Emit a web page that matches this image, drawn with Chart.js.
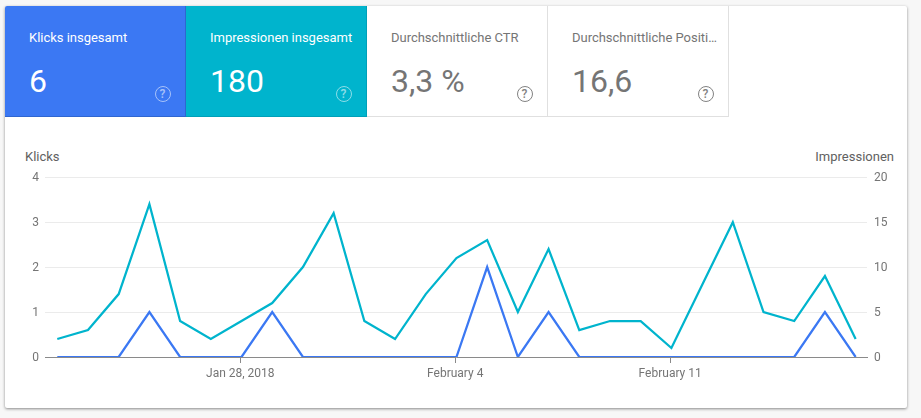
<!DOCTYPE html>
<html>
<head>
<meta charset="utf-8">
<script src="https://cdn.jsdelivr.net/npm/chart.js@4"></script>
<style>
	html, body { margin: 0; padding: 0; width: 921px; height: 418px; overflow: hidden; background: #f7f7f7; font-family: Roboto, sans-serif; }
	#card { position: absolute; left: 5px; top: 6px; width: 902px; height: 402px; background: #fff; border-radius: 2px; box-shadow: 0 1px 3px rgba(0,0,0,0.45); }
	.tile { position: absolute; top: 6px; width: 181px; height: 111px; box-sizing: border-box; color: #757575; border-right: 1px solid #e0e0e0; border-bottom: 1px solid #e0e0e0; }
	.tile.clicks { left: 5px; background: #3b78f3; color: #fff; border-color: #2f66d0; border-top-left-radius: 2px; }
	.tile.impressions { left: 186px; background: #00b4cd; color: #fff; border-color: #00a0b8; }
	.tile.ctr { left: 367px; }
	.tile.position { left: 548px; }
	.tile .name { position: absolute; left: 24px; top: 23.5px; font-size: 13px; line-height: 16px; white-space: nowrap; letter-spacing: -0.02px; }
	.tile .value { position: absolute; left: 24px; top: 56px; font-size: 32px; line-height: 38px; white-space: nowrap; }
	.tile .help { position: absolute; left: 149.5px; top: 79.5px; width: 14px; height: 14px; border: 1.5px solid currentColor; border-radius: 50%; font-size: 12px; line-height: 14px; text-align: center; font-weight: 500; opacity: 0.55; }
	.tile.ctr .help, .tile.position .help { opacity: 0.9; }
	.axis-name { position: absolute; top: 149px; font-size: 13px; line-height: 16px; color: #616161; }
	#chart-box { position: absolute; left: 5px; top: 163px; width: 902px; height: 237px; }
</style>
</head>
<body>
<div id="card"></div>
<div class="tile clicks"><div class="name">Klicks insgesamt</div><div class="value">6</div><div class="help">?</div></div>
<div class="tile impressions"><div class="name">Impressionen insgesamt</div><div class="value">180</div><div class="help">?</div></div>
<div class="tile ctr"><div class="name">Durchschnittliche CTR</div><div class="value">3,3 %</div><div class="help">?</div></div>
<div class="tile position"><div class="name">Durchschnittliche Positi…</div><div class="value">16,6</div><div class="help">?</div></div>
<div class="axis-name" style="left:25px">Klicks</div>
<div class="axis-name" style="right:27px">Impressionen</div>
<div id="chart-box"><canvas id="GscChart"></canvas></div>
<script>
// days counted from Jan 22, 2018
const days = [0,1,2,3,4,5,6,7,8,9,10,11,12,13,14,15,16,17,18,19,20,21,22,23,24,25,26];
const clicks = [0,0,0,1,0,0,0,1,0,0,0,0,0,0,2,0,1,0,0,0,0,0,0,0,0,1,0];
const impressions = [2,3,7,17,4,2,4,6,10,16,4,2,7,11,13,5,12,3,4,4,1,8,15,5,4,9,2];
const tickDays = [6,13,20];
const tickLabels = ['Jan 28, 2018','February 4','February 11'];
const clickTicks = [0,1,2,3,4];
const impressionTicks = [0,5,10,15,20];

const tickFont = {family: 'Roboto', size: 12};

new Chart(document.getElementById('GscChart'), {
	type: 'line',
	data: {
		labels: days,
		datasets: [{
			label: 'Klicks',
			data: days.map((d, i) => ({x: d, y: clicks[i]})),
			yAxisID: 'yClicks',
			borderColor: '#3b78f3',
			borderWidth: 2.25,
			pointRadius: 0
		}, {
			label: 'Impressionen',
			data: days.map((d, i) => ({x: d, y: impressions[i]})),
			yAxisID: 'yImpressions',
			borderColor: '#00b4cd',
			borderWidth: 2.25,
			pointRadius: 0
		}]
	},
	options: {
		responsive: true,
		maintainAspectRatio: false,
		animation: false,
		layout: {padding: {top: 11, bottom: 0, left: 0, right: 0}},
		plugins: {legend: {display: false}, tooltip: {enabled: false}},
		scales: {
			x: {
				type: 'linear',
				min: -0.4,
				max: 26.37,
				afterBuildTicks: scale => { scale.ticks = tickDays.map(v => ({value: v - 0.04})); },
				afterFit: scale => { scale.height = 43; },
				ticks: {
					autoSkip: false,
					maxRotation: 0,
					padding: 4,
					color: '#757575',
					font: tickFont,
					callback: (value, i) => tickLabels[i]
				},
				grid: {drawOnChartArea: false, tickLength: 6, tickColor: '#8a8a8a'},
				border: {color: '#8a8a8a'}
			},
			yClicks: {
				position: 'left',
				min: 0,
				max: 4,
				afterBuildTicks: scale => { scale.ticks = clickTicks.map(v => ({value: v})); },
				afterFit: scale => { scale.width = 40; },
				ticks: {padding: 6, labelOffset: 1, color: '#757575', font: tickFont},
				grid: {color: '#ebebeb', drawTicks: false},
				border: {display: false}
			},
			yImpressions: {
				position: 'right',
				min: 0,
				max: 20,
				afterBuildTicks: scale => { scale.ticks = impressionTicks.map(v => ({value: v})); },
				afterFit: scale => { scale.width = 40; },
				ticks: {padding: 7, labelOffset: 1, color: '#757575', font: tickFont},
				grid: {drawOnChartArea: false, drawTicks: false},
				border: {display: false}
			}
		}
	}
});
</script>
</body>
</html>
